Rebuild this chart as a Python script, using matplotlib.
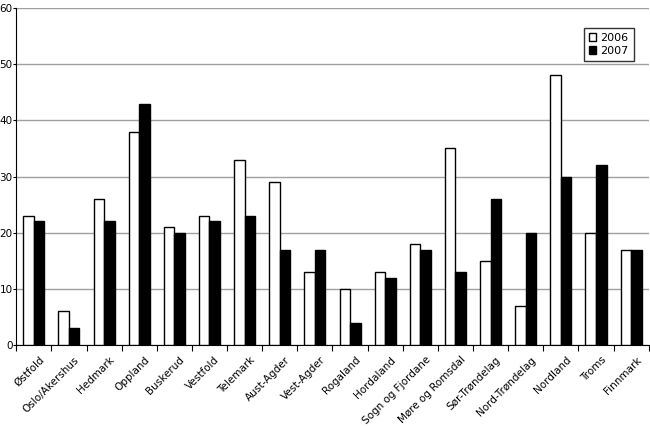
import numpy as np
import matplotlib.pyplot as plt
from matplotlib.transforms import ScaledTranslation

# fylker and values per year
fylker = ['Østfold', 'Oslo/Akershus', 'Hedmark', 'Oppland', 'Buskerud', 'Vestfold',
          'Telemark', 'Aust-Agder', 'Vest-Agder', 'Rogaland', 'Hordaland',
          'Sogn og Fjordane', 'Møre og Romsdal', 'Sør-Trøndelag', 'Nord-Trøndelag',
          'Nordland', 'Troms', 'Finnmark']
v2006 = [23, 6, 26, 38, 21, 23, 33, 29, 13, 10, 13, 18, 35, 15, 7, 48, 20, 17]
v2007 = [22, 3, 22, 43, 20, 22, 23, 17, 17, 4, 12, 17, 13, 26, 20, 30, 32, 17]
yticks = [0, 10, 20, 30, 40, 50, 60]

fig = plt.figure(figsize=(6.5, 4.28), dpi=100)
ax = fig.add_axes([0.025, 0.194, 0.973, 0.787])

x = np.arange(len(fylker))
w = 0.3
ax.bar(x - w/2, v2006, w, color='white', edgecolor='black', linewidth=1, label='2006', zorder=3)
ax.bar(x + w/2, v2007, w, color='black', edgecolor='black', linewidth=1, label='2007', zorder=3)

ax.set_xlim(-0.5, len(fylker) - 0.5)
ax.set_ylim(0, 60)
ax.set_yticks(yticks)
ax.set_yticklabels([str(t) for t in yticks], fontsize=7.5)
ax.yaxis.grid(True, color='#a0a0a0', linewidth=1)
ax.set_axisbelow(True)

# category boundary ticks, labels at centres
ax.set_xticks(np.arange(len(fylker) + 1) - 0.5)
ax.set_xticklabels([])
ax.set_xticks(x, minor=True)
ax.set_xticklabels(fylker, minor=True, rotation=45, ha='right', rotation_mode='anchor', fontsize=7.5)
ax.tick_params(axis='x', which='minor', length=0, pad=7)
ax.tick_params(axis='x', which='major', length=4, direction='out')
ax.tick_params(axis='y', length=2, pad=0.5)
shift = ScaledTranslation(5/100, 0, fig.dpi_scale_trans)
for lab in ax.get_xticklabels(minor=True):
    lab.set_transform(lab.get_transform() + shift)

for s in ['top', 'right']:
    ax.spines[s].set_visible(False)

leg = ax.legend(loc='upper left', bbox_to_anchor=(0.898, 0.935), bbox_transform=fig.transFigure,
                fontsize=8, frameon=True, fancybox=False, edgecolor='black',
                handlelength=0.7, handleheight=0.7, handletextpad=0.35,
                borderpad=0.45, labelspacing=0.25, borderaxespad=0)
leg.get_frame().set_linewidth(1)

fig.savefig('out.png', dpi=100)
